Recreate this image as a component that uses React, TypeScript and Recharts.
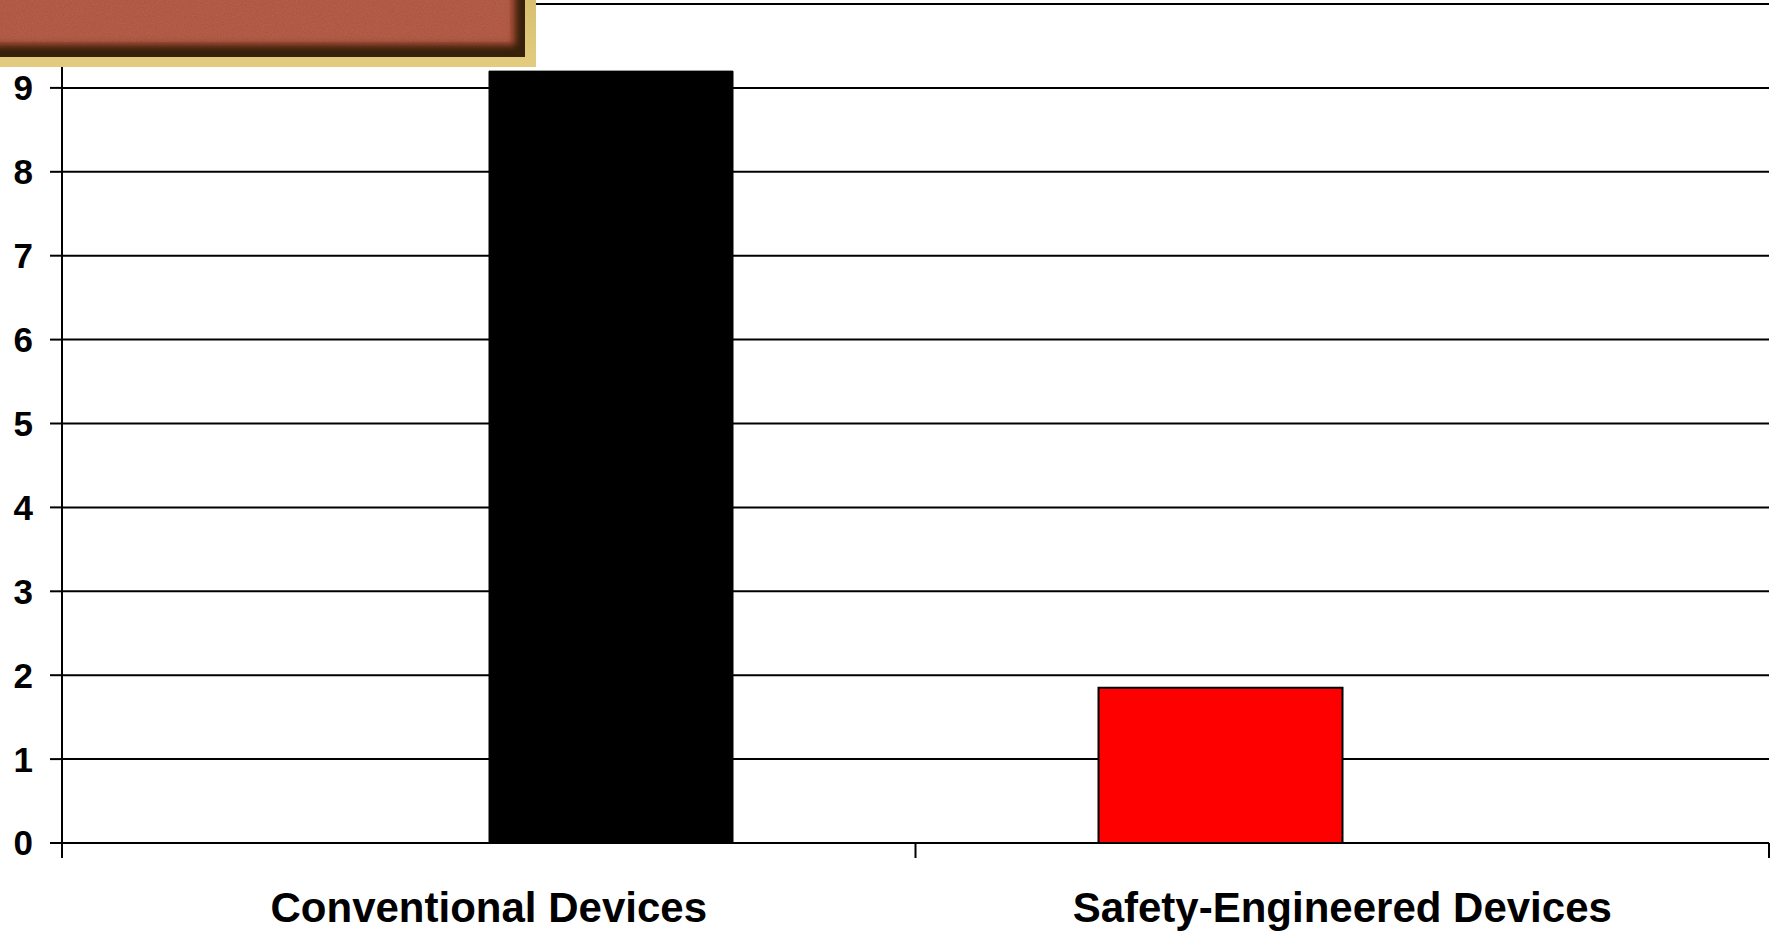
import { BarChart, Bar, XAxis, YAxis, CartesianGrid } from "recharts";

// Needlestick injury rates by device type
const categories = ["Conventional Devices", "Safety-Engineered Devices"];
const conventionalValues = [9.2, null];
const safetyValues = [null, 1.85];
const yTicks = [0, 1, 2, 3, 4, 5, 6, 7, 8, 9];

const data = categories.map((name, i) => ({
  name,
  conventional: conventionalValues[i],
  safety: safetyValues[i],
}));

const FONT = '"Liberation Sans", Arial, Helvetica, sans-serif';
const TICK_LEN = 15;
const TICK_GAP = 2;

interface TickProps {
  x: number;
  y: number;
  index: number;
  visibleTicksCount: number;
  payload: { value: string; offset?: number };
}

// Category label centred in the band, tick marks on the band edges
function CategoryTick({ x, y, index, visibleTicksCount, payload }: TickProps) {
  const half = payload.offset ?? 0;
  const axisY = y - TICK_LEN - TICK_GAP;
  const last = index === visibleTicksCount - 1;
  return (
    <g>
      <line x1={x - half} x2={x - half} y1={axisY} y2={axisY + TICK_LEN} stroke="#000" strokeWidth={2} />
      {last && (
        <line x1={x + half} x2={x + half} y1={axisY} y2={axisY + TICK_LEN} stroke="#000" strokeWidth={2} />
      )}
      <text
        x={x}
        y={axisY + 79}
        textAnchor="middle"
        fill="#000"
        fontSize={42}
        fontWeight="bold"
        fontFamily={FONT}
      >
        {payload.value}
      </text>
    </g>
  );
}

function TitleCorner() {
  return (
    <div
      style={{
        position: "absolute",
        left: 0,
        top: 0,
        width: 536,
        height: 67,
        background: "linear-gradient(180deg, #d8bf70 0%, #e3cc7f 100%)",
        overflow: "hidden",
        zIndex: 2,
      }}
    >
      <div
        style={{
          position: "absolute",
          left: 0,
          top: 0,
          width: 525,
          height: 57,
          background: "#b0513a",
          boxShadow: "inset -10px -12px 7px rgba(50,30,8,0.95)",
          filter: "blur(0.5px)",
        }}
      />
      <svg width={510} height={42} style={{ position: "absolute", left: 0, top: 0, opacity: 0.18 }}>
        <filter id="grain">
          <feTurbulence type="fractalNoise" baseFrequency="0.9" numOctaves={2} seed={4} />
          <feColorMatrix type="saturate" values="0" />
        </filter>
        <rect width="100%" height="100%" filter="url(#grain)" style={{ mixBlendMode: "overlay" }} />
      </svg>
    </div>
  );
}

export default function App() {
  return (
    <div
      style={{
        position: "absolute",
        left: 0,
        top: 0,
        width: 1777,
        height: 931,
        overflow: "hidden",
        background: "#fff",
      }}
    >
      <BarChart
        width={1777}
        height={931}
        data={data}
        margin={{ top: 4, right: 8, bottom: 0, left: 0 }}
        barSize={244}
        barGap={0}
      >
        <CartesianGrid vertical={false} stroke="#000" strokeWidth={2} />
        <XAxis
          dataKey="name"
          height={88}
          interval={0}
          tickSize={TICK_LEN}
          tickMargin={TICK_GAP}
          tickLine={false}
          axisLine={{ stroke: "#000", strokeWidth: 2 }}
          tick={(props: TickProps) => <CategoryTick {...props} />}
        />
        {/* top frame line */}
        <XAxis
          xAxisId="frame"
          dataKey="name"
          orientation="top"
          height={0}
          tick={false}
          tickLine={false}
          axisLine={{ stroke: "#000", strokeWidth: 2 }}
        />
        <YAxis
          type="number"
          domain={[0, 10]}
          ticks={yTicks}
          interval={0}
          width={62}
          tickSize={12}
          tickMargin={17}
          axisLine={{ stroke: "#000", strokeWidth: 2 }}
          tickLine={{ stroke: "#000", strokeWidth: 2 }}
          tick={{ fill: "#000", fontSize: 35, fontWeight: "bold", fontFamily: FONT }}
        />
        {/* right-hand frame line */}
        <YAxis
          yAxisId="frame"
          orientation="right"
          width={0}
          domain={[0, 10]}
          tick={false}
          tickLine={false}
          axisLine={{ stroke: "#000", strokeWidth: 2 }}
        />
        <Bar dataKey="safety" fill="#ff0000" stroke="#000" strokeWidth={2} isAnimationActive={false} />
        <Bar dataKey="conventional" fill="#000" stroke="#000" strokeWidth={1} isAnimationActive={false} />
      </BarChart>
      <TitleCorner />
    </div>
  );
}
